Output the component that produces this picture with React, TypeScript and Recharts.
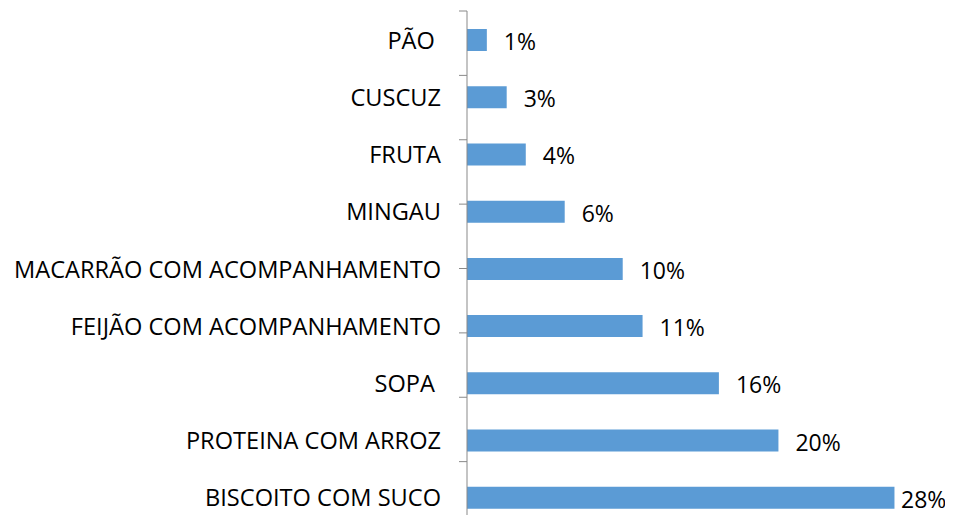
import React from "react";
import { BarChart, Bar, XAxis, YAxis, LabelList } from "recharts";

const categories = [
  "PÃO ",
  "CUSCUZ",
  "FRUTA",
  "MINGAU",
  "MACARRÃO COM ACOMPANHAMENTO",
  "FEIJÃO COM ACOMPANHAMENTO",
  "SOPA ",
  "PROTEINA COM ARROZ",
  "BISCOITO COM SUCO",
];
const values = [1.3, 2.6, 3.85, 6.4, 10.2, 11.5, 16.5, 20.4, 28.0];
const valueLabels = ["1%", "3%", "4%", "6%", "10%", "11%", "16%", "20%", "28%"];
const boundaryTicks = [0, 1, 2, 3, 4, 5, 6, 7, 8, 9];

const data = categories.map((name, i) => ({ name, value: values[i], label: valueLabels[i] }));

const CHART_W = 945;
const CHART_H = 520;
const FONT = "'Open Sans', 'Liberation Sans', sans-serif";
const AXIS_COLOR = "#898989";

const CatTick = (props: any) => {
  const { x, y, payload } = props;
  return (
    <text
      x={x}
      y={y}
      textAnchor="end"
      dominantBaseline="central"
      fontFamily={FONT}
      fontSize={23.6}
      fill="#000"
      xmlSpace="preserve"
      style={{ whiteSpace: "pre" }}
    >
      {payload.value}
    </text>
  );
};

const ValueLabel = (props: any) => {
  const { x, y, width, height, value } = props;
  const tx = Math.min(Number(x) + Number(width) + 17, CHART_W - 52);
  return (
    <text
      x={tx}
      y={Number(y) + Number(height) / 2 + 1}
      textAnchor="start"
      dominantBaseline="central"
      fontFamily={FONT}
      fontSize={23}
      fill="#000"
    >
      {value}
    </text>
  );
};

export default function App() {
  return (
    <div style={{ width: CHART_W, height: 515, overflow: "hidden", marginBottom: -8 }}>
      <BarChart
        width={CHART_W}
        height={CHART_H}
        data={data}
        layout="vertical"
        margin={{ top: 3, right: 28, bottom: 2, left: 0 }}
        barSize={22}
      >
        <XAxis type="number" domain={[0, 30]} hide />
        <YAxis
          yAxisId="a_grid"
          type="number"
          domain={[0, 9]}
          ticks={boundaryTicks}
          interval={0}
          allowDataOverflow
          width={1}
          tickSize={8}
          tickLine={{ stroke: AXIS_COLOR }}
          axisLine={{ stroke: AXIS_COLOR }}
          tick={{ fontSize: 1, fill: "none" }}
          tickFormatter={() => ""}
        />
        <YAxis
          yAxisId="b_cat"
          type="category"
          dataKey="name"
          width={458}
          axisLine={false}
          tickLine={false}
          tickSize={0}
          tickMargin={25}
          interval={0}
          tick={<CatTick />}
        />
        <Bar yAxisId="b_cat" dataKey="value" fill="#5B9BD5" isAnimationActive={false}>
          <LabelList dataKey="label" content={<ValueLabel />} />
        </Bar>
      </BarChart>
    </div>
  );
}
